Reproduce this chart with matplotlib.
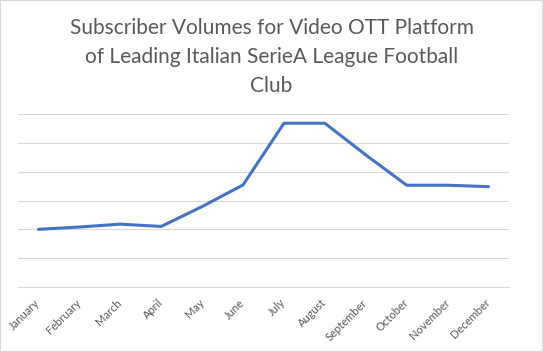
#!/usr/bin/env python3
"""Subscriber volumes line chart (Excel style), saved as out.png."""
import matplotlib
matplotlib.use("Agg")
import matplotlib.pyplot as plt
from matplotlib.patches import Rectangle

MONTHS = ["January", "February", "March", "April", "May", "June", "July",
          "August", "September", "October", "November", "December"]
SUBSCRIBERS = [2.0, 2.08, 2.18, 2.1, 2.79, 3.54, 5.68, 5.68, 4.58, 3.53, 3.53, 3.48]
Y_TICKS = [0, 1, 2, 3, 4, 5, 6]
TITLE = "Subscriber Volumes for Video OTT Platform\nof Leading Italian SerieA League Football\nClub"

GRID = "#D9D9D9"
TEXT = "#595959"
LINE = "#4472C4"

fig = plt.figure(figsize=(5.43, 3.52), dpi=100)
ax = fig.add_axes([18 / 543, 1 - 287 / 352, 491 / 543, 173 / 352])

x = list(range(len(MONTHS)))
ax.plot(x, SUBSCRIBERS, color=LINE, linewidth=2.2, solid_joinstyle="round",
        solid_capstyle="round", zorder=3)

ax.set_xlim(-0.5, len(MONTHS) - 0.5)
ax.set_ylim(Y_TICKS[0], Y_TICKS[-1])
ax.set_yticks(Y_TICKS)
ax.set_yticklabels([])
ax.tick_params(axis="y", length=0)
ax.grid(axis="y", color=GRID, linewidth=0.8)
ax.set_axisbelow(True)
for side in ("left", "right", "top"):
    ax.spines[side].set_visible(False)
ax.spines["bottom"].set_color(GRID)
ax.spines["bottom"].set_linewidth(0.8)

ax.set_xticks(x)
ax.set_xticklabels(MONTHS, rotation=45, ha="right", va="center",
                   rotation_mode="anchor", fontsize=8, color=TEXT,
                   family="Lato")
ax.tick_params(axis="x", length=0, pad=10)

fig.text(0.5, 0.948, TITLE, ha="center", va="top", fontsize=15,
         color=TEXT, family="Lato", linespacing=1.55)

fig.patches.append(Rectangle((0, 0), 1, 1, transform=fig.transFigure,
                             fill=False, edgecolor=GRID, linewidth=1.5))

fig.savefig("out.png", dpi=100)
